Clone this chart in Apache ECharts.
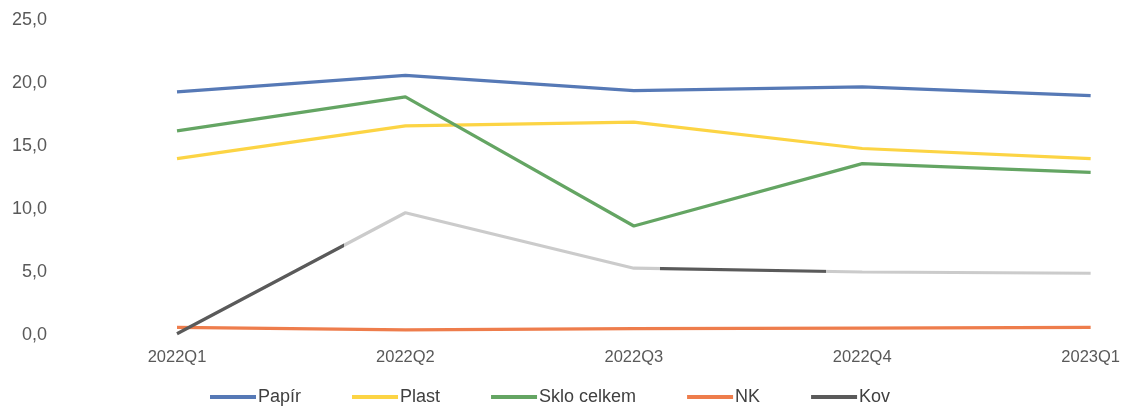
<!DOCTYPE html>
<html><head><meta charset="utf-8">
<script src="https://cdn.jsdelivr.net/npm/echarts@6/dist/echarts.min.js"></script>
<style>html,body{margin:0;padding:0;background:#fff}#c{width:1123px;height:411px}</style>
</head><body><div id="c"></div>
<script>
var categories = ['2022Q1','2022Q2','2022Q3','2022Q4','2023Q1'];
var papir = [19.3, 20.6, 19.4, 19.7, 19.0];
var plast = [14.0, 16.6, 16.9, 14.8, 14.0];
var sklo  = [16.2, 18.9, 8.65, 13.6, 12.9];
var nk    = [0.6, 0.4, 0.5, 0.55, 0.6];
var kov   = [0.1, 9.7, 5.3, 5.0, 4.9];

var chart = echarts.init(document.getElementById('c'));
function ser(name, data, color, lineColor){
  return {name:name, type:'line', data:data, symbol:'none', smooth:false,
    lineStyle:{width:3.2, color:lineColor || color}, itemStyle:{color:color}};
}
var dark = '#5a5a5a', light = '#cbcbcb';
var kovGradient = new echarts.graphic.LinearGradient(0, 0, 1, 0, [
  {offset:0, color:dark}, {offset:0.184, color:dark},
  {offset:0.184, color:light}, {offset:0.528, color:light},
  {offset:0.528, color:dark}, {offset:0.709, color:dark},
  {offset:0.709, color:light}, {offset:1, color:light}
]);
chart.setOption({
  animation:false,
  grid:{left:177, right:31, top:20, bottom:76},
  legend:{bottom:0, left:205, itemGap:51, itemWidth:46, itemHeight:4, icon:'rect',
    textStyle:{fontSize:18, color:'#404040', fontFamily:'Liberation Sans', padding:[0,0,0,-3]},
    data:['Papír','Plast','Sklo celkem','NK','Kov']},
  xAxis:{type:'category', data:categories, boundaryGap:false,
    axisLine:{show:false}, axisTick:{show:false},
    axisLabel:{margin:14, fontSize:16.5, color:'#595959', fontFamily:'Liberation Sans'}},
  yAxis:{type:'value', min:0, max:25, interval:5,
    axisLine:{show:false}, axisTick:{show:false}, splitLine:{show:false},
    axisLabel:{margin:130, fontSize:18, color:'#595959', fontFamily:'Liberation Sans',
      formatter:function(v){return v.toFixed(1).replace('.',',');}}},
  series:[
    ser('Papír', papir, '#5679b6'),
    ser('Plast', plast, '#fcd444'),
    ser('Sklo celkem', sklo, '#64a563'),
    ser('NK', nk, '#ee7d4c'),
    ser('Kov', kov, dark, kovGradient)
  ]
});
</script></body></html>
